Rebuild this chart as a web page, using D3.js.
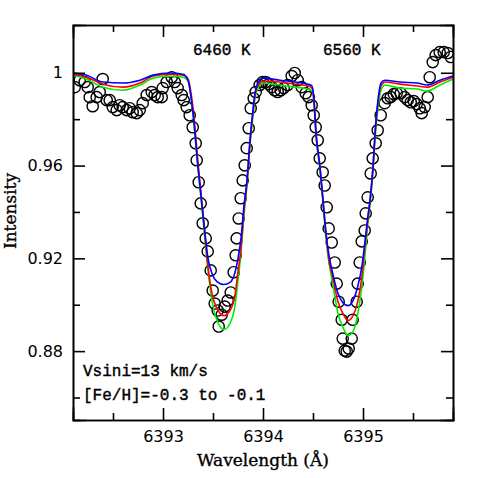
<!DOCTYPE html>
<html>
<head>
<meta charset="utf-8">
<script src="https://cdn.jsdelivr.net/npm/d3@7"></script>
<style>
  body { margin: 0; background: #fff; }
  .tick text { font-family: "DejaVu Sans", sans-serif; font-size: 16px; fill: #000; }
  .axis path, .axis line { stroke: #000; stroke-width: 1.6; }
  .title { font-family: "DejaVu Serif", serif; font-size: 17px; fill: #000; stroke: #000; stroke-width: 0.35; }
  .note { font-family: "Liberation Mono", monospace; font-size: 16px; fill: #000; stroke: #000; stroke-width: 0.4; }
</style>
</head>
<body>
<svg id="spec" width="478" height="478"></svg>
<script>
// observed spectrum (circles)
const obsWave = [6392.117, 6392.167, 6392.217, 6392.247, 6392.267, 6392.297, 6392.337, 6392.367, 6392.397, 6392.437,
  6392.467, 6392.497, 6392.537, 6392.567, 6392.597, 6392.637, 6392.667, 6392.697, 6392.737, 6392.767,
  6392.797, 6392.837, 6392.887, 6392.917, 6392.947, 6392.987, 6392.997, 6393.037, 6393.087, 6393.117,
  6393.147, 6393.187, 6393.207, 6393.237, 6393.267, 6393.297, 6393.327, 6393.337, 6393.357, 6393.377,
  6393.397, 6393.427, 6393.447, 6393.477, 6393.497, 6393.517, 6393.547, 6393.557, 6393.587, 6393.617,
  6393.647, 6393.677, 6393.707, 6393.727, 6393.737, 6393.757, 6393.777, 6393.797, 6393.817, 6393.837,
  6393.857, 6393.877, 6393.907, 6393.927, 6393.967, 6393.997, 6394.027, 6394.057, 6394.087, 6394.117,
  6394.147, 6394.177, 6394.207, 6394.247, 6394.287, 6394.317, 6394.347, 6394.387, 6394.427, 6394.457,
  6394.487, 6394.507, 6394.527, 6394.547, 6394.567, 6394.597, 6394.617, 6394.637, 6394.657, 6394.687,
  6394.717, 6394.737, 6394.757, 6394.787, 6394.797, 6394.817, 6394.837, 6394.857, 6394.887, 6394.897,
  6394.937, 6394.947, 6394.967, 6394.987, 6395.017, 6395.027, 6395.047, 6395.077, 6395.097, 6395.127,
  6395.147, 6395.177, 6395.217, 6395.247, 6395.277, 6395.307, 6395.337, 6395.377, 6395.417, 6395.447,
  6395.477, 6395.507, 6395.537, 6395.567, 6395.587, 6395.617, 6395.647, 6395.667, 6395.697, 6395.727,
  6395.767, 6395.807, 6395.847, 6395.877];
const obsFlux = [0.9938, 0.9968, 0.9960, 0.9938, 0.9895, 0.9856, 0.9895, 0.9917, 0.9973, 0.9882,
  0.9882, 0.9852, 0.9839, 0.9860, 0.9852, 0.9839, 0.9847, 0.9830, 0.9826, 0.9839,
  0.9869, 0.9904, 0.9917, 0.9904, 0.9895, 0.9895, 0.9934, 0.9960, 0.9981, 0.9960,
  0.9934, 0.9904, 0.9882, 0.9852, 0.9817, 0.9765, 0.9696, 0.9623, 0.9528, 0.9437,
  0.9351, 0.9286, 0.9230, 0.9148, 0.9061, 0.9005, 0.8975, 0.8906, 0.8957, 0.8992,
  0.9018, 0.9053, 0.9140, 0.9213, 0.9286, 0.9372, 0.9459, 0.9536, 0.9601, 0.9675,
  0.9761, 0.9847, 0.9890, 0.9917, 0.9947, 0.9960, 0.9960, 0.9951, 0.9938, 0.9925,
  0.9917, 0.9925, 0.9934, 0.9947, 0.9986, 0.9999, 0.9968, 0.9938, 0.9912, 0.9895,
  0.9860, 0.9817, 0.9765, 0.9709, 0.9631, 0.9571, 0.9514, 0.9420, 0.9329, 0.9268,
  0.9182, 0.9091, 0.9013, 0.8935, 0.8854, 0.8802, 0.8798, 0.8811, 0.8854, 0.8935,
  0.9013, 0.9091, 0.9182, 0.9273, 0.9320, 0.9394, 0.9463, 0.9566, 0.9631, 0.9696,
  0.9752, 0.9817, 0.9869, 0.9890, 0.9895, 0.9908, 0.9912, 0.9912, 0.9895, 0.9882,
  0.9873, 0.9878, 0.9865, 0.9847, 0.9826, 0.9852, 0.9895, 0.9981, 1.0046, 1.0076,
  1.0089, 1.0089, 1.0085, 1.0068];

// synthetic spectra, same wavelength grid
const modelWave = [6392.10, 6392.23, 6392.40, 6392.60, 6392.77, 6392.90, 6393.07, 6393.20, 6393.25, 6393.30,
  6393.35, 6393.39, 6393.42, 6393.45, 6393.49, 6393.54, 6393.61, 6393.67, 6393.72, 6393.75,
  6393.78, 6393.81, 6393.84, 6393.87, 6393.90, 6393.92, 6393.94, 6394.00, 6394.17, 6394.32,
  6394.45, 6394.49, 6394.51, 6394.53, 6394.57, 6394.60, 6394.63, 6394.66, 6394.70, 6394.75,
  6394.80, 6394.85, 6394.90, 6394.95, 6394.99, 6395.02, 6395.05, 6395.07, 6395.10, 6395.12,
  6395.15, 6395.18, 6395.22, 6395.37, 6395.54, 6395.64, 6395.77, 6395.90];
const fluxGreen = [0.9990, 0.9973, 0.9938, 0.9925, 0.9947, 0.9977, 0.9986, 0.9981, 0.9964, 0.9822,
  0.9588, 0.9415, 0.9277, 0.9148, 0.9018, 0.8932, 0.8893, 0.8919, 0.8996, 0.9105,
  0.9226, 0.9385, 0.9515, 0.9688, 0.9817, 0.9891, 0.9925, 0.9956, 0.9947, 0.9938,
  0.9930, 0.9921, 0.9869, 0.9731, 0.9580, 0.9437, 0.9286, 0.9182, 0.9083, 0.8962,
  0.8902, 0.8867, 0.8884, 0.8966, 0.9083, 0.9213, 0.9355, 0.9428, 0.9580, 0.9709,
  0.9848, 0.9925, 0.9947, 0.9934, 0.9930, 0.9921, 0.9947, 0.9973];
const fluxRed = [0.9994, 0.9981, 0.9951, 0.9938, 0.9956, 0.9986, 0.9994, 0.9990, 0.9973, 0.9848,
  0.9614, 0.9437, 0.9299, 0.9165, 0.9048, 0.8983, 0.8953, 0.8975, 0.9040, 0.9143,
  0.9243, 0.9407, 0.9528, 0.9701, 0.9830, 0.9904, 0.9938, 0.9964, 0.9960, 0.9951,
  0.9943, 0.9934, 0.9882, 0.9740, 0.9593, 0.9450, 0.9308, 0.9191, 0.9113, 0.9013,
  0.8962, 0.8932, 0.8953, 0.9018, 0.9126, 0.9256, 0.9372, 0.9450, 0.9593, 0.9731,
  0.9873, 0.9943, 0.9960, 0.9951, 0.9943, 0.9938, 0.9960, 0.9981];
const fluxBlue = [0.9999, 0.9990, 0.9960, 0.9956, 0.9968, 0.9990, 0.9999, 0.9994, 0.9968, 0.9826,
  0.9593, 0.9428, 0.9308, 0.9200, 0.9135, 0.9100, 0.9087, 0.9096, 0.9139, 0.9200,
  0.9286, 0.9428, 0.9536, 0.9709, 0.9839, 0.9912, 0.9947, 0.9977, 0.9968, 0.9960,
  0.9951, 0.9943, 0.9882, 0.9740, 0.9593, 0.9450, 0.9308, 0.9213, 0.9130, 0.9048,
  0.9009, 0.8996, 0.9018, 0.9083, 0.9169, 0.9273, 0.9385, 0.9450, 0.9593, 0.9740,
  0.9882, 0.9956, 0.9968, 0.9960, 0.9956, 0.9947, 0.9968, 0.9986];

const xMajor = [6393, 6394, 6395];
const xMinor = [6392.5, 6393.5, 6394.5, 6395.5];
const yMajor = [0.88, 0.92, 0.96, 1];
const yMajorLabels = ["0.88", "0.92", "0.96", "1"];
const yMinor = [0.86, 0.90, 0.94, 0.98];

const svg = d3.select("svg#spec");
const margin = { top: 25, right: 25, bottom: 58, left: 73 };
const chartWidth = 478 - margin.left - margin.right;
const chartHeight = 478 - margin.top - margin.bottom;

const xScale = d3.scaleLinear([6392.1, 6395.9], [0, chartWidth]);
const yScale = d3.scaleLinear([0.8503, 1.0206], [chartHeight, 0]);

let chartArea = svg.append("g")
  .attr("transform", `translate(${margin.left},${margin.top})`);

chartArea.append("clipPath").attr("id", "clip")
  .append("rect").attr("width", chartWidth).attr("height", chartHeight);

let plot = chartArea.append("g").attr("clip-path", "url(#clip)");

const obsData = obsWave.map((w, i) => ({ w: w, f: obsFlux[i] }));
plot.selectAll("circle")
  .data(obsData)
  .join("circle")
  .attr("r", 5.6)
  .attr("cx", (d) => xScale(d.w))
  .attr("cy", (d) => yScale(d.f))
  .attr("fill", "none")
  .attr("stroke", "#000")
  .attr("stroke-width", 1.4);

const gen = d3.line((d) => xScale(d[0]), (d) => yScale(d[1])).curve(d3.curveMonotoneX);
const models = [
  { color: "#00ee00", flux: fluxGreen },
  { color: "#ff0000", flux: fluxRed },
  { color: "#0000ff", flux: fluxBlue },
];
models.forEach((m) => {
  plot.append("path")
    .datum(modelWave.map((w, i) => [w, m.flux[i]]))
    .attr("fill", "none")
    .attr("stroke", m.color)
    .attr("stroke-width", 1.6)
    .attr("d", gen);
});

// axes with inward ticks on all four sides
const addAxis = (axis, tf) => chartArea.append("g").attr("class", "axis").attr("transform", tf).call(axis);

addAxis(d3.axisBottom(xScale).tickValues(xMajor).tickSize(-12).tickPadding(11).tickFormat(d3.format("d")),
  `translate(0,${chartHeight})`);
addAxis(d3.axisBottom(xScale).tickValues(xMinor).tickSize(-7).tickFormat(""), `translate(0,${chartHeight})`);
addAxis(d3.axisTop(xScale).tickValues(xMajor).tickSize(-12).tickFormat(""), "translate(0,0)");
addAxis(d3.axisTop(xScale).tickValues(xMinor).tickSize(-7).tickFormat(""), "translate(0,0)");
addAxis(d3.axisLeft(yScale).tickValues(yMajor).tickSize(-12).tickPadding(10)
  .tickFormat((d, i) => yMajorLabels[i]), "translate(0,0)");
addAxis(d3.axisLeft(yScale).tickValues(yMinor).tickSize(-7).tickFormat(""), "translate(0,0)");
addAxis(d3.axisRight(yScale).tickValues(yMajor).tickSize(-12).tickFormat(""), `translate(${chartWidth},0)`);
addAxis(d3.axisRight(yScale).tickValues(yMinor).tickSize(-7).tickFormat(""), `translate(${chartWidth},0)`);

chartArea.selectAll(".axis path").attr("stroke-linecap", "square");

// titles
svg.append("text").attr("class", "title")
  .attr("x", margin.left + chartWidth / 2).attr("y", 466)
  .attr("text-anchor", "middle").text("Wavelength (Å)");
svg.append("text").attr("class", "title")
  .attr("transform", `translate(16,${margin.top + 186}) rotate(-90)`)
  .attr("text-anchor", "middle").text("Intensity");

// annotations
svg.append("text").attr("class", "note").attr("x", 193).attr("y", 55).text("6460 K");
svg.append("text").attr("class", "note").attr("x", 323).attr("y", 55).text("6560 K");
svg.append("text").attr("class", "note").attr("x", 83).attr("y", 376).text("Vsini=13 km/s");
svg.append("text").attr("class", "note").attr("x", 83).attr("y", 400).text("[Fe/H]=-0.3 to -0.1");
</script>
</body>
</html>
